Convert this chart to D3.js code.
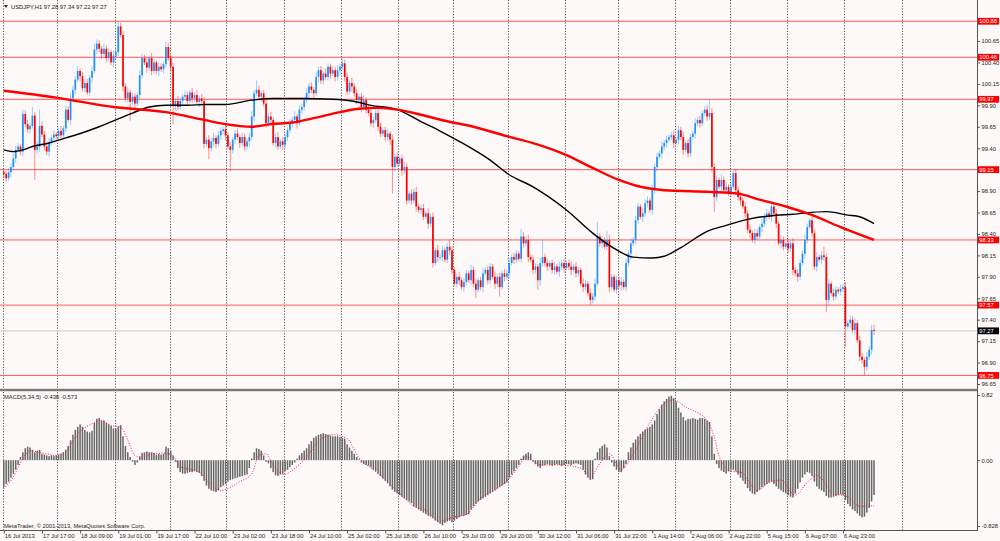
<!DOCTYPE html>
<html><head><meta charset="utf-8">
<script src="https://cdn.jsdelivr.net/npm/d3@7/dist/d3.min.js"></script>
<style>
html,body{margin:0;padding:0;background:#fcf9f8;}
svg{display:block;}
text{font-family:"Liberation Sans",Arial,sans-serif;}
</style></head>
<body>
<svg id="c" width="1000" height="541"></svg>
<script>
// ---------------- DATA ----------------
const symbolTitle = "USDJPY,H1 97.28 97.34 97.22 97.27";
const macdTitle = "MACD(5,34,5) -0.438 -0.573";
const copyright = "MetaTrader, © 2001-2013, MetaQuotes Software Corp.";
const firstOpen = 99.12;
const closes = [
99.10,99.05,99.12,99.18,99.28,99.38,99.42,99.36,99.80,99.68,
99.62,99.66,99.78,99.38,99.42,99.66,99.56,99.42,99.36,99.46,
99.52,99.56,99.54,99.60,99.55,99.63,99.85,99.73,99.98,100.08,
100.20,100.30,100.24,100.10,100.16,100.05,100.22,100.30,100.55,100.62,
100.56,100.50,100.56,100.45,100.52,100.40,100.48,100.52,100.82,100.72,
100.12,99.98,100.05,99.94,100.00,99.92,100.02,100.25,100.45,100.40,
100.34,100.45,100.30,100.40,100.30,100.35,100.32,100.38,100.58,100.45,
100.35,99.90,99.95,99.88,99.95,100.00,100.02,99.95,100.05,99.98,
100.02,99.94,99.98,99.95,99.45,99.50,99.40,99.48,99.52,99.45,
99.55,99.60,99.62,99.55,99.42,99.38,99.50,99.57,99.53,99.46,
99.53,99.42,99.48,99.53,99.77,100.04,100.08,100.00,100.04,99.92,
99.69,99.77,99.73,99.46,99.53,99.42,99.48,99.44,99.53,99.61,
99.69,99.73,99.77,99.69,99.85,99.88,99.96,100.04,100.12,100.08,
100.04,100.23,100.31,100.19,100.27,100.23,100.35,100.27,100.31,100.23,
100.31,100.35,100.39,100.23,100.06,100.16,100.12,100.04,99.96,100.00,
99.88,99.96,99.85,99.81,99.69,99.73,99.81,99.65,99.57,99.61,
99.53,99.57,99.50,99.18,99.30,99.22,99.28,99.14,99.18,98.79,
98.87,98.79,98.89,98.72,98.68,98.70,98.60,98.64,98.52,98.60,
98.06,98.21,98.13,98.13,98.21,98.10,98.25,98.21,97.98,97.82,
97.90,97.86,97.78,97.84,97.94,97.86,97.98,97.82,97.75,97.86,
97.78,97.94,97.98,97.86,98.02,97.90,97.82,97.90,97.78,97.94,
97.90,97.94,98.06,98.13,98.10,98.17,98.11,98.37,98.29,98.33,
98.13,98.10,97.98,98.02,97.86,98.06,98.13,98.06,98.02,98.06,
97.98,98.02,97.96,98.02,98.06,98.00,98.06,98.02,97.98,98.02,
97.94,97.98,97.82,97.78,97.82,97.71,97.63,97.67,97.82,98.37,
98.29,98.33,98.25,98.33,97.78,97.90,97.75,97.86,97.80,97.84,
97.78,98.06,98.17,98.29,98.33,98.56,98.72,98.60,98.64,98.76,
98.79,98.68,98.91,99.18,99.30,99.34,99.42,99.46,99.50,99.53,
99.55,99.46,99.50,99.61,99.53,99.38,99.46,99.34,99.53,99.57,
99.69,99.73,99.69,99.81,99.85,99.77,99.81,99.18,98.83,99.03,
98.95,99.03,98.91,98.95,98.87,98.95,99.11,98.91,98.83,98.79,
98.72,98.64,98.45,98.41,98.33,98.41,98.37,98.48,98.52,98.60,
98.64,98.60,98.72,98.64,98.52,98.29,98.33,98.25,98.29,98.23,
98.29,97.98,97.94,97.90,98.06,98.17,98.33,98.48,98.56,98.41,
98.02,98.13,98.10,98.15,98.13,97.63,97.82,97.71,97.67,97.75,
97.73,97.76,97.78,97.32,97.36,97.40,97.28,97.36,97.16,96.97,
96.93,96.85,96.97,97.05,97.28,97.27];
// upper / lower wick lengths in pips (0.01)
const upperWick = [
4,3,5,4,6,5,4,3,5,4, 5,3,10,4,6,19,5,4,3,5, 4,5,3,4,6,3,5,4,6,5, 4,6,3,5,4,5,3,6,7,5,
4,3,6,4,5,3,6,4,6,4, 5,4,6,3,5,4,3,6,5,4, 5,3,6,4,3,5,4,3,6,5, 4,5,3,6,4,3,5,4,3,5,
4,6,3,5,4,3,5,4,6,3, 5,4,3,6,4,5,3,4,6,3, 5,4,3,5,6,4,11,5,3,4, 6,4,5,3,4,6,3,5,4,3,
5,4,6,3,5,4,3,6,4,5, 3,6,4,5,3,6,4,3,5,4, 6,3,6,4,5,3,6,4,5,3, 4,6,3,5,4,3,6,4,5,3,
4,5,3,6,4,5,3,4,6,5, 3,5,4,6,3,4,5,3,6,4, 5,3,6,4,5,3,4,8,5,3, 4,6,3,5,4,3,6,4,5,3,
4,6,3,5,4,3,6,4,5,3, 5,4,6,3,5,4,3,9,5,4, 6,3,5,4,3,6,20,4,5,3, 4,5,3,6,4,5,3,4,6,3,
5,4,3,6,4,3,5,4,6,17, 4,5,3,10,6,4,3,5,4,6, 3,5,4,6,3,5,4,3,6,4, 5,3,6,4,5,3,6,4,5,3,
4,6,3,5,4,6,3,5,4,3, 6,4,5,3,4,5,16,6,4,5, 3,6,4,5,3,4,3,5,4,6, 3,5,4,6,3,5,4,3,6,4,
5,3,6,4,5,3,6,4,3,5, 4,6,3,5,4,3,6,4,2,5, 4,6,3,5,10,4,6,3,5,4, 3,5,4,6,3,5,4,6,3,5,
4,3,5,4,6,6];
const lowerWick = [
5,4,3,6,4,5,3,4,6,3, 4,5,3,35,4,6,3,5,4,6, 3,5,4,6,3,5,4,3,6,4, 5,3,6,4,5,3,4,6,3,5,
4,6,3,5,4,3,6,4,5,3, 6,4,5,22,4,6,3,5,4,3, 6,4,5,3,4,6,3,5,4,3, 5,22,6,4,3,5,4,6,3,5,
4,3,6,4,5,3,13,4,6,5, 3,5,4,6,3,25,4,5,3,6, 4,5,3,6,4,5,3,4,6,3, 5,4,6,3,5,4,3,6,4,5,
3,5,4,6,3,5,4,3,6,4, 5,3,6,4,5,3,4,6,3,5, 4,6,3,5,4,3,6,4,5,3, 6,4,5,3,4,6,3,5,4,3,
5,4,6,31,5,4,3,6,4,5, 3,5,4,6,3,5,4,3,6,4, 5,3,6,4,5,3,4,6,5,3, 4,6,3,5,4,3,6,4,10,3,
4,6,3,5,4,3,6,4,11,3, 5,4,6,3,5,4,3,4,5,4, 6,3,5,4,11,6,4,4,5,3, 4,5,3,6,4,5,3,4,6,3,
5,4,3,6,4,3,6,4,5,3, 4,5,3,4,6,4,3,5,4,6, 3,5,4,6,3,5,4,3,6,4, 5,3,6,4,5,3,6,4,5,3,
4,6,3,5,4,6,3,5,4,3, 6,4,5,3,4,5,4,6,17,5, 3,6,4,5,3,4,3,5,4,6, 3,5,4,6,3,5,4,3,6,4,
5,3,6,4,5,3,6,4,3,5, 4,6,3,6,4,3,6,4,2,5, 4,6,3,5,4,14,6,3,5,4, 3,5,4,24,3,5,4,6,3,5,
4,10,5,4,6,5];
// moving averages sampled (bar index, value)
const maRed = [[0,100.07],[22,99.99],[46,99.88],[68,99.82],[84,99.73],[93,99.68],[104,99.65],[112,99.68],[121,99.70],[130,99.75],[141,99.82],[149,99.86],[157,99.87],[165,99.85],[175,99.79],[185,99.72],[197,99.65],[211,99.54],[222,99.46],[236,99.32],[247,99.17],[258,99.03],[267,98.95],[277,98.91],[296,98.89],[308,98.87],[317,98.80],[328,98.72],[338,98.63],[351,98.48],[365,98.33]];
const maBlack = [[0,99.38],[4,99.36],[8,99.38],[12,99.42],[19,99.46],[26,99.52],[33,99.58],[40,99.65],[47,99.73],[54,99.81],[61,99.88],[68,99.90],[77,99.90],[85,99.91],[93,99.91],[104,99.96],[113,99.98],[125,99.98],[138,99.97],[146,99.95],[154,99.90],[165,99.85],[175,99.71],[183,99.60],[191,99.48],[204,99.26],[212,99.09],[222,98.95],[236,98.68],[247,98.41],[255,98.25],[264,98.13],[272,98.12],[277,98.14],[284,98.24],[295,98.43],[303,98.50],[312,98.57],[321,98.61],[331,98.63],[345,98.66],[354,98.62],[359,98.60],[365,98.52]];
const macdHist = [
-0.34,-0.30,-0.27,-0.22,-0.17,-0.12,-0.06,0.04,0.10,0.15,
0.17,0.16,0.13,0.10,0.12,0.13,0.08,0.07,0.06,0.05,
0.06,0.05,0.06,0.07,0.08,0.10,0.13,0.18,0.25,0.32,
0.38,0.42,0.45,0.42,0.38,0.36,0.35,0.37,0.47,0.52,
0.53,0.50,0.50,0.47,0.45,0.43,0.40,0.40,0.42,0.44,
0.30,0.18,0.10,0.04,-0.02,-0.06,-0.03,0.05,0.09,0.10,
0.11,0.10,0.10,0.09,0.07,0.08,0.07,0.08,0.17,0.15,
0.12,0.06,-0.02,-0.10,-0.15,-0.17,-0.17,-0.16,-0.15,-0.15,
-0.14,-0.15,-0.16,-0.20,-0.26,-0.32,-0.36,-0.38,-0.39,-0.40,
-0.38,-0.34,-0.32,-0.30,-0.27,-0.25,-0.24,-0.23,-0.22,-0.21,
-0.20,-0.19,-0.18,-0.10,0.02,0.10,0.15,0.14,0.12,0.06,
-0.02,-0.04,-0.10,-0.15,-0.19,-0.20,-0.18,-0.17,-0.14,-0.12,
-0.09,-0.06,-0.03,0.02,0.06,0.09,0.12,0.15,0.20,0.24,
0.28,0.30,0.32,0.33,0.34,0.33,0.32,0.31,0.30,0.30,
0.30,0.29,0.28,0.27,0.20,0.16,0.12,0.08,0.04,0.01,
-0.03,-0.05,-0.06,-0.07,-0.09,-0.12,-0.14,-0.17,-0.20,-0.23,
-0.26,-0.29,-0.33,-0.37,-0.40,-0.42,-0.44,-0.46,-0.48,-0.50,
-0.52,-0.54,-0.58,-0.60,-0.62,-0.64,-0.66,-0.68,-0.70,-0.71,
-0.73,-0.76,-0.78,-0.80,-0.82,-0.79,-0.77,-0.76,-0.78,-0.76,
-0.74,-0.72,-0.70,-0.70,-0.69,-0.68,-0.62,-0.58,-0.55,-0.52,
-0.50,-0.48,-0.46,-0.44,-0.42,-0.40,-0.38,-0.36,-0.34,-0.32,
-0.30,-0.28,-0.22,-0.18,-0.14,-0.10,-0.06,0.02,0.06,0.08,
0.10,0.08,-0.02,-0.05,-0.08,-0.10,-0.07,-0.06,-0.05,-0.06,
-0.07,-0.06,-0.05,-0.06,-0.07,-0.06,-0.05,-0.05,-0.06,-0.05,
-0.04,-0.05,-0.06,-0.12,-0.18,-0.22,-0.25,-0.24,0.02,0.10,
0.15,0.18,0.20,0.16,0.05,-0.03,-0.08,-0.12,-0.15,-0.15,
-0.10,-0.05,0.10,0.16,0.22,0.26,0.30,0.33,0.36,0.38,
0.40,0.42,0.45,0.50,0.58,0.64,0.70,0.74,0.77,0.80,
0.81,0.78,0.74,0.66,0.60,0.54,0.50,0.52,0.52,0.53,
0.52,0.51,0.53,0.53,0.52,0.50,0.48,0.30,0.08,-0.05,
-0.10,-0.13,-0.15,-0.17,-0.14,-0.12,-0.12,-0.14,-0.18,-0.22,
-0.26,-0.30,-0.35,-0.39,-0.42,-0.43,-0.40,-0.37,-0.34,-0.32,
-0.30,-0.28,-0.27,-0.30,-0.33,-0.36,-0.38,-0.40,-0.42,-0.44,
-0.46,-0.47,-0.42,-0.36,-0.28,-0.22,-0.18,-0.15,-0.16,-0.20,
-0.27,-0.33,-0.36,-0.38,-0.40,-0.45,-0.47,-0.47,-0.46,-0.45,
-0.44,-0.43,-0.44,-0.50,-0.55,-0.58,-0.62,-0.64,-0.67,-0.70,
-0.72,-0.71,-0.66,-0.60,-0.52,-0.438];
const macdSignal = [[0,-0.36],[4,-0.21],[8,0.02],[11,0.12],[16,0.09],[22,0.06],[26,0.12],[32,0.36],[37,0.46],[40,0.50],[46,0.43],[49,0.42],[52,0.25],[55,0.06],[58,0.03],[62,0.08],[68,0.09],[71,0.05],[74,-0.08],[82,-0.15],[86,-0.28],[91,-0.38],[99,-0.27],[104,-0.17],[107,0.06],[110,0.08],[113,-0.06],[117,-0.18],[123,-0.08],[127,0.04],[132,0.24],[138,0.32],[144,0.27],[149,0.03],[155,-0.12],[160,-0.24],[166,-0.42],[172,-0.58],[177,-0.63],[183,-0.77],[188,-0.72],[194,-0.68],[200,-0.48],[211,-0.26],[216,-0.08],[219,0.05],[225,-0.06],[233,-0.06],[242,-0.10],[246,-0.21],[250,-0.04],[254,0.08],[259,-0.12],[264,0.08],[270,0.42],[275,0.65],[281,0.76],[286,0.67],[295,0.50],[298,0.29],[300,0.05],[305,-0.14],[309,-0.15],[316,-0.38],[321,-0.28],[326,-0.25],[332,-0.44],[337,-0.28],[341,-0.19],[348,-0.42],[354,-0.46],[359,-0.58],[365,-0.573]];
const levels = [100.88,100.46,99.97,99.15,98.33,97.57,96.75];
const currentPrice = 97.27;
// 99.15 tick sits under the 99.15 level label, so it is not listed separately
const priceTicks = [100.65,100.40,100.15,99.90,99.65,99.40,98.90,98.65,98.40,98.15,97.90,97.65,97.40,97.15,96.90,96.65];
const macdTicks = [0.82,0.00,-0.828];
const macdTickLabels = ["0.82","0.00","-0.828"];
const timeLabels = ["16 Jul 2013","17 Jul 17:00","18 Jul 09:00","19 Jul 01:00","19 Jul 17:00","22 Jul 10:00","23 Jul 02:00","23 Jul 18:00","24 Jul 10:00","25 Jul 02:00","25 Jul 18:00","26 Jul 10:00","29 Jul 03:00","29 Jul 20:00","30 Jul 12:00","31 Jul 06:00","31 Jul 22:00","1 Aug 14:00","2 Aug 06:00","2 Aug 22:00","5 Aug 15:00","6 Aug 07:00","6 Aug 23:00"];
const timeLabelBars = [0,16,32,48,64,80,96,112,128,144,160,176,192,208,224,240,256,272,288,304,320,336,352];
const gridBars = [-0.3,22.3,46.5,69.6,93.3,117.4,141.4,165.5,188.4,211.5,235.5,257.5,281.5,304.5,328.6,352.6,376.6];

// ---------------- CHART ----------------
const svg = d3.select("#c");
const W = 977, BOTTOM = 530, SEP = 390;
const FS = 5.8;
const x = d3.scaleLinear().domain([0, 365]).range([3.8, 874]);
const y = d3.scaleLinear().domain([96.65, 100.65]).range([384, 41]);
const ym = d3.scaleLinear().domain([-0.828, 0.82]).range([526, 395]);

svg.append("rect").attr("width",1000).attr("height",541).attr("fill","#fcf9f8");

// vertical dotted grid
svg.append("g").selectAll("line").data(gridBars).join("line")
  .attr("x1", d => Math.round(x(d))+0.5).attr("x2", d => Math.round(x(d))+0.5)
  .attr("y1", 0).attr("y2", BOTTOM)
  .attr("stroke","#444").attr("stroke-width",0.9).attr("stroke-dasharray","1.2,1.6");

// current price line
svg.append("line").attr("x1",0).attr("x2",W).attr("y1",y(currentPrice)).attr("y2",y(currentPrice))
  .attr("stroke","#d6d6d6").attr("stroke-width",1.2);

// horizontal levels
svg.append("g").selectAll("line").data(levels).join("line")
  .attr("x1",0).attr("x2",W).attr("y1",d=>y(d)).attr("y2",d=>y(d))
  .attr("stroke","#ff5a5a").attr("stroke-width",1);

// candles
const bars = closes.map((c,i)=>{
  const o = i===0 ? firstOpen : closes[i-1];
  const h = Math.max(o,c) + upperWick[i]/100;
  const l = Math.min(o,c) - lowerWick[i]/100;
  return {i,o,h,l,c};
});
const cg = svg.append("g");
cg.selectAll("line").data(bars).join("line")
  .attr("x1",d=>x(d.i)).attr("x2",d=>x(d.i))
  .attr("y1",d=>y(d.h)).attr("y2",d=>y(d.l))
  .attr("stroke",d=>d.c>=d.o?"#1e90ff":"#ff0000")
  .attr("stroke-width",0.8).attr("stroke-opacity",0.55);
cg.selectAll("rect").data(bars).join("rect")
  .attr("x",d=>x(d.i)-0.85).attr("width",1.7)
  .attr("y",d=>y(Math.max(d.o,d.c)))
  .attr("height",d=>Math.max(0.8, y(Math.min(d.o,d.c))-y(Math.max(d.o,d.c))))
  .attr("fill",d=>d.c>=d.o?"#1e90ff":"#ff0000");

// moving averages
const ln = d3.line().x(d=>x(d[0])).y(d=>y(d[1])).curve(d3.curveMonotoneX);
svg.append("path").attr("d",ln(maBlack)).attr("fill","none").attr("stroke","#000").attr("stroke-width",1.4);
svg.append("path").attr("d",ln(maRed)).attr("fill","none").attr("stroke","#ff0000").attr("stroke-width",2.4);

// MACD histogram
svg.append("g").selectAll("rect").data(macdHist).join("rect")
  .attr("x",(d,i)=>x(i)-0.75).attr("width",1.5)
  .attr("y",d=>Math.min(ym(0),ym(d))).attr("height",d=>Math.max(0.6,Math.abs(ym(d)-ym(0))))
  .attr("fill","#666");
const lm = d3.line().x(d=>x(d[0])).y(d=>ym(d[1])).curve(d3.curveMonotoneX);
svg.append("path").attr("d",lm(macdSignal)).attr("fill","none")
  .attr("stroke","#ff2020").attr("stroke-width",1).attr("stroke-dasharray","1,1.6");

// frame and panel separator
svg.append("rect").attr("x",0).attr("y",SEP-1.2).attr("width",W).attr("height",2.4).attr("fill","#7a7a7a");
svg.append("line").attr("x1",W+0.5).attr("x2",W+0.5).attr("y1",0).attr("y2",BOTTOM+0.5).attr("stroke","#555").attr("stroke-width",1);
svg.append("line").attr("x1",0).attr("x2",W+1).attr("y1",BOTTOM+0.5).attr("y2",BOTTOM+0.5).attr("stroke","#555").attr("stroke-width",1);

// right price axis
const ay = svg.append("g").attr("transform",`translate(${W+0.5},0)`)
  .call(d3.axisRight(y).tickValues(priceTicks).tickSize(2.5).tickPadding(1.5).tickFormat(d3.format(".2f")));
ay.select(".domain").remove();
ay.selectAll("line").attr("stroke","#555");
ay.selectAll("text").attr("font-size",FS).attr("fill","#222").attr("font-family","Liberation Sans, Arial, sans-serif");

// MACD axis
const am = svg.append("g").attr("transform",`translate(${W+0.5},0)`)
  .call(d3.axisRight(ym).tickValues(macdTicks).tickSize(2.5).tickPadding(1.5).tickFormat((d,i)=>macdTickLabels[i]));
am.select(".domain").remove();
am.selectAll("line").attr("stroke","#555");
am.selectAll("text").attr("font-size",FS).attr("fill","#222").attr("font-family","Liberation Sans, Arial, sans-serif");

// level labels
const lg = svg.append("g");
levels.forEach(v=>{
  lg.append("rect").attr("x",W+1).attr("y",y(v)-3.4).attr("width",21).attr("height",6.8).attr("fill","#ff0000");
  lg.append("text").attr("x",W+2.3).attr("y",y(v)+2.1).attr("font-size",FS).attr("fill","#fff").text(v.toFixed(2));
});
lg.append("rect").attr("x",W+1).attr("y",y(currentPrice)-3.4).attr("width",21).attr("height",6.8).attr("fill","#000");
lg.append("text").attr("x",W+2.3).attr("y",y(currentPrice)+2.1).attr("font-size",FS).attr("fill","#fff").text(currentPrice.toFixed(2));

// time axis
const ax = svg.append("g").attr("transform",`translate(0,${BOTTOM+0.5})`)
  .call(d3.axisBottom(x).tickValues(timeLabelBars).tickSize(3).tickFormat((d,i)=>timeLabels[i]));
ax.select(".domain").remove();
ax.selectAll("line").attr("stroke","#555");
ax.selectAll("text").attr("font-size",FS).attr("fill","#222").attr("text-anchor","start")
  .attr("x",0.5).attr("y",3).attr("font-family","Liberation Sans, Arial, sans-serif");

// titles
svg.append("path").attr("d","M4,5 L8,5 L6,8 Z").attr("fill","#333");
svg.append("text").attr("x",11).attr("y",9).attr("font-size",FS).attr("fill","#222").text(symbolTitle);
svg.append("text").attr("x",4).attr("y",398.5).attr("font-size",FS).attr("fill","#222").text(macdTitle);
svg.append("text").attr("x",4).attr("y",527.5).attr("font-size",FS).attr("fill","#222").text(copyright);
</script>
</body></html>
